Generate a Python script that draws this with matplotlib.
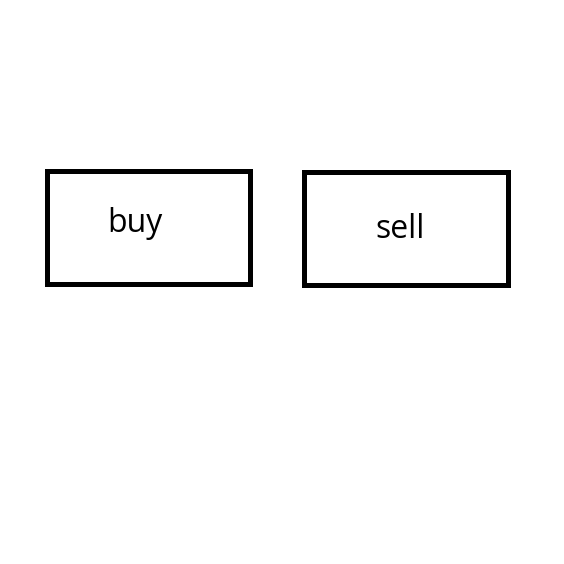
import matplotlib
matplotlib.use("Agg")
import matplotlib.pyplot as plt
from matplotlib.patches import Rectangle

labels = ["buy", "sell"]

# layout (pixels, figure coordinates with origin at top-left)
box_left = [46.5, 303.5]
box_top = [170.5, 171.5]
box_w = [203.5, 204]
box_h = [113.5, 113.5]
text_x = [107.5, 375.5]
text_base = [231.5, 237.5]

fig = plt.figure(figsize=(5.64, 5.64), dpi=100)
ax = fig.add_axes([0, 0, 1, 1])
ax.set_xlim(0, 564)
ax.set_ylim(564, 0)
ax.axis("off")

for i, lab in enumerate(labels):
    ax.add_patch(Rectangle((box_left[i], box_top[i]), box_w[i], box_h[i],
                           fill=False, edgecolor="black", linewidth=3.6,
                           joinstyle="miter"))
    ax.text(text_x[i], text_base[i], lab, ha="left", va="baseline",
            fontsize=23, family="Open Sans", color="black")

fig.savefig("out.png", dpi=100, facecolor="white")
